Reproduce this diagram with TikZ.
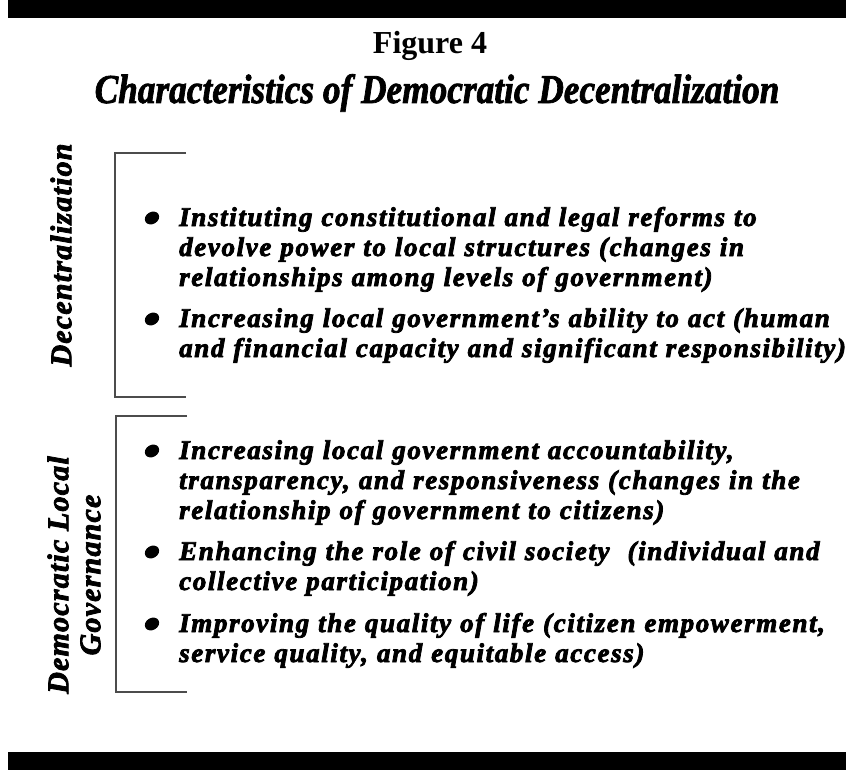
\documentclass[tikz,border=0pt]{standalone}
\usepackage{fontspec}
\setmainfont{Liberation Serif}
\newfontfamily\itemfont[LetterSpace=6]{Liberation Serif}
\newfontfamily\sidefont[LetterSpace=4]{Liberation Serif}
\usetikzlibrary{shapes.geometric, positioning}
% stroke the glyphs as well as filling them, for the heavy print look
\newcommand{\heavy}[1]{\special{pdf:literal 2 Tr 0.8 w}#1\special{pdf:literal 0 Tr}}

\begin{document}
\begin{tikzpicture}[x=1pt,y=-1pt]

\tikzset{itemtext/.style = {anchor=base west, text width=760pt, align=left, inner sep=0pt,
    font=\itemfont\bfseries\itshape\fontsize{27}{30}\selectfont}}
\tikzset{sidelabel/.style = {rotate=90, align=center, inner sep=0pt,
    font=\sidefont\bfseries\itshape\fontsize{30}{32}\selectfont}}
\tikzset{bulletdot/.style = {ellipse, fill, inner sep=0pt, minimum width=15pt, minimum height=12pt, rotate=30}}
\tikzset{bracket/.style = {draw=black!70, line width=1.1pt}}

\useasboundingbox (0,0) rectangle (846,770);
% rules
\fill (8,0) rectangle (846,18);
\fill (8,752) rectangle (846,770);
% titles
\node[anchor=base, font=\bfseries\fontsize{32}{36}\selectfont] (fig) at (430,54) {Figure 4};
\node[anchor=base, font=\bfseries\itshape\fontsize{41}{46}\selectfont] (sub) at (437,103)
    {\scalebox{0.86}[1]{\heavy{Characteristics of Democratic Decentralization}}};
% brackets
\coordinate (dtop) at (186,153);
\coordinate (dbot) at (186,397);
\coordinate (gtop) at (187,416);
\coordinate (gbot) at (187,692);
\draw[bracket] (dtop) -- (115,153) -- (115,397) -- (dbot);
\draw[bracket] (gtop) -- (116,416) -- (116,692) -- (gbot);
% side labels
\node[sidelabel] (dec) at (61,255) {\heavy{Decentralization}};
\node[sidelabel] (dlg) at (74,575) {\heavy{Democratic Local\\Governance}};
% bullets
\node[bulletdot] (b1) at (152,218) {};
\node[bulletdot] (b2) at (152,319) {};
\node[bulletdot] (b3) at (152,451) {};
\node[bulletdot] (b4) at (152,552) {};
\node[bulletdot] (b5) at (152,624) {};
% items
\node[itemtext] (i1) at (179,226) {\heavy{Instituting constitutional and legal reforms to\\
    devolve power to local structures (changes in\\
    relationships among levels of government)}};
\node[itemtext] (i2) at (179,327) {\heavy{Increasing local government’s ability to act (human\\
    and financial capacity and significant responsibility)}};
\node[itemtext] (i3) at (179,459) {\heavy{Increasing local government accountability,\\
    transparency, and responsiveness (changes in the\\
    relationship of government to citizens)}};
\node[itemtext] (i4) at (179,560) {\heavy{Enhancing the role of civil society \ (individual and\\
    collective participation)}};
\node[itemtext] (i5) at (179,632) {\heavy{Improving the quality of life (citizen empowerment,\\
    service quality, and equitable access)}};
\end{tikzpicture}
\end{document}
